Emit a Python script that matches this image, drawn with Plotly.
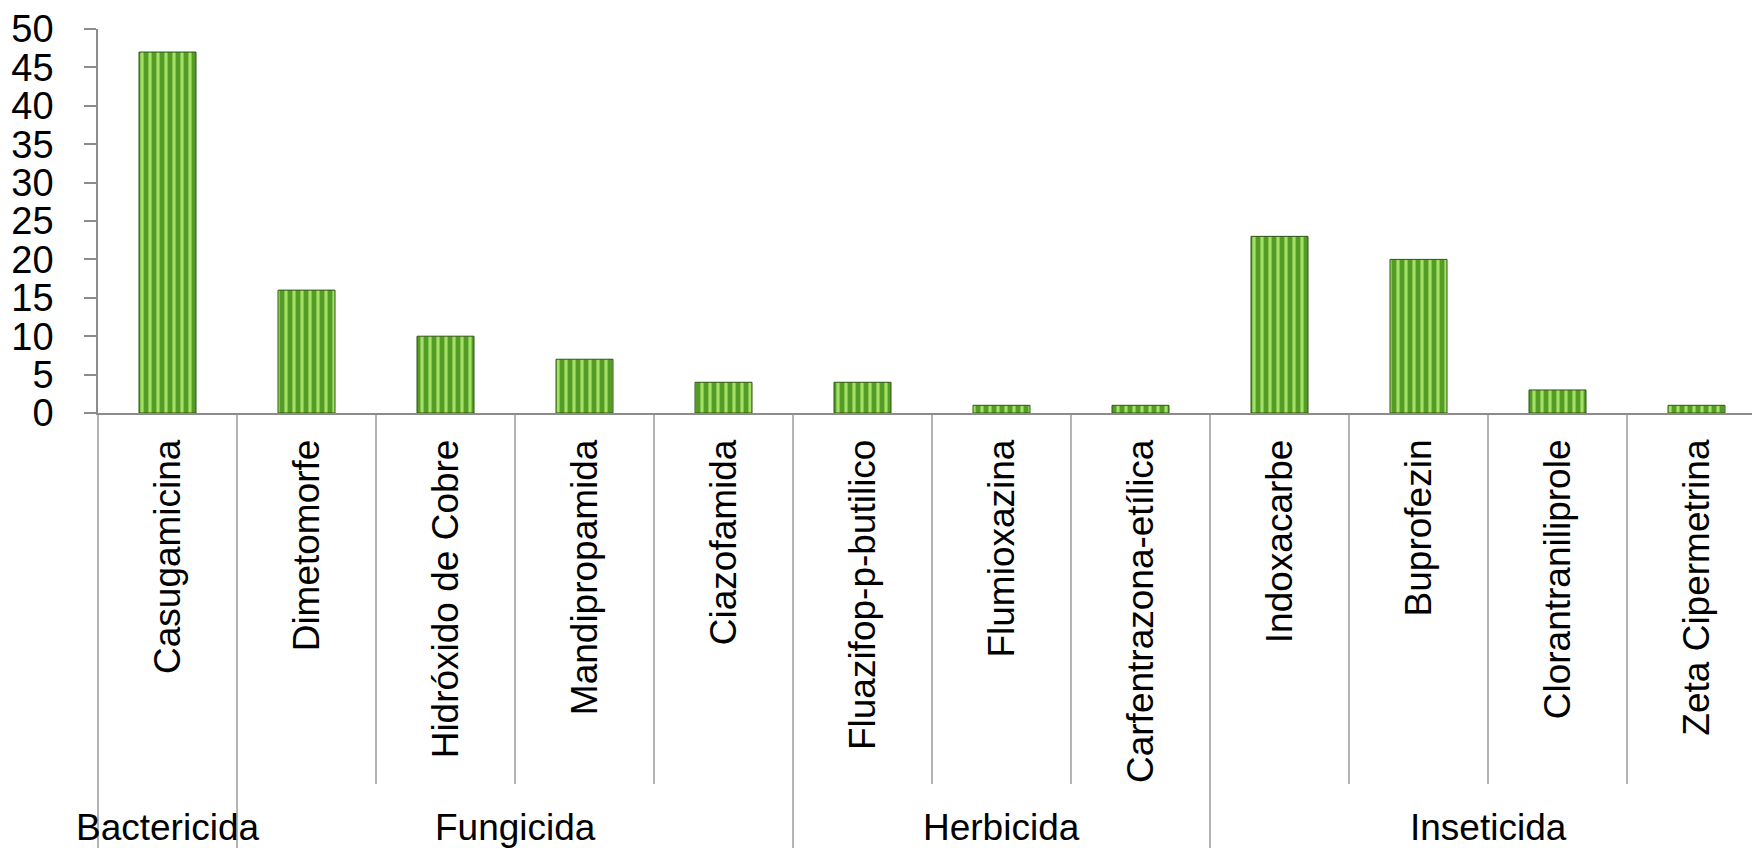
import plotly.graph_objects as go

categories = ["Casugamicina", "Dimetomorfe", "Hidróxido de Cobre", "Mandipropamida",
              "Ciazofamida", "Fluazifop-p-butilico", "Flumioxazina", "Carfentrazona-etílica",
              "Indoxacarbe", "Buprofezin", "Clorantraniliprole", "Zeta Cipermetrina"]
groups = ["Bactericida", "Fungicida", "Fungicida", "Fungicida", "Fungicida",
          "Herbicida", "Herbicida", "Herbicida",
          "Inseticida", "Inseticida", "Inseticida", "Inseticida"]
values = [47, 16, 10, 7, 4, 4, 1, 1, 23, 20, 3, 1]
y_ticks = [0, 5, 10, 15, 20, 25, 30, 35, 40, 45, 50]

FONT = "Arial, Liberation Sans, sans-serif"
GRAY = "#8c8c8c"
W, H = 1752, 848
ML, MR, MT, MB = 98, 0, 29, 435
cat_px = 139.0
n = len(categories)
x0 = -0.5
x1 = x0 + (W - ML - MR) / cat_px
plot_h = H - MT - MB
axis_y = MT + plot_h

fig = go.Figure()
fig.add_trace(go.Bar(
    x=list(range(n)), y=values, width=0.41,
    marker=dict(
        color="#559c27",
        line=dict(color="#2f5512", width=1),
        pattern=dict(shape="|", fgcolor="#a3e066", bgcolor="#559c27",
                     size=8, solidity=0.4, fillmode="replace"),
    ),
    hoverinfo="x+y",
))

shapes = []
for i in range(n):
    b = i - 0.5
    if b < x0 - 1e-9 or b > x1:
        continue
    long = (i == 0) or (groups[i] != groups[i - 1])
    xp = (b - x0) / (x1 - x0)
    y_end = (-(H - axis_y) / plot_h - 0.01) if long else (-(784 - axis_y) / plot_h)
    shapes.append(dict(type="line", xref="paper", yref="paper",
                       x0=xp, x1=xp, y0=0, y1=y_end,
                       line=dict(color=GRAY, width=1.3)))

annotations = []
seen = []
for g in groups:
    if g not in seen:
        seen.append(g)
label_y = -(827 - axis_y) / plot_h
for g in seen:
    idx = [i for i, gg in enumerate(groups) if gg == g]
    cx = sum(idx) / len(idx)
    annotations.append(dict(x=cx, xref="x", y=label_y, yref="paper",
                            text=g, showarrow=False, yanchor="middle",
                            xanchor="center",
                            font=dict(family=FONT, size=37, color="black")))

fig.update_layout(
    width=W, height=H,
    margin=dict(l=ML, r=MR, t=MT, b=MB, autoexpand=False),
    paper_bgcolor="white", plot_bgcolor="white",
    showlegend=False,
    shapes=shapes, annotations=annotations,
    xaxis=dict(
        range=[x0, x1], automargin=False,
        tickmode="array", tickvals=list(range(n)), ticktext=categories,
        tickangle=-90, ticks="", showgrid=False, zeroline=False,
        showline=True, linecolor=GRAY, linewidth=1.5,
        tickfont=dict(family=FONT, size=37, color="black"),
        ticklabelstandoff=10,
    ),
    yaxis=dict(
        range=[0, 50], tickmode="array", tickvals=y_ticks, automargin=False,
        ticks="outside", ticklen=12, tickcolor=GRAY, tickwidth=1.5,
        showline=True, linecolor=GRAY, linewidth=1.5,
        showgrid=False, zeroline=False,
        tickfont=dict(family=FONT, size=38, color="black"),
        ticklabelstandoff=23,
    ),
)

fig.write_html("out.html", config={"displayModeBar": False},
               post_script="document.body.style.margin='0';document.body.style.overflow='hidden';")
